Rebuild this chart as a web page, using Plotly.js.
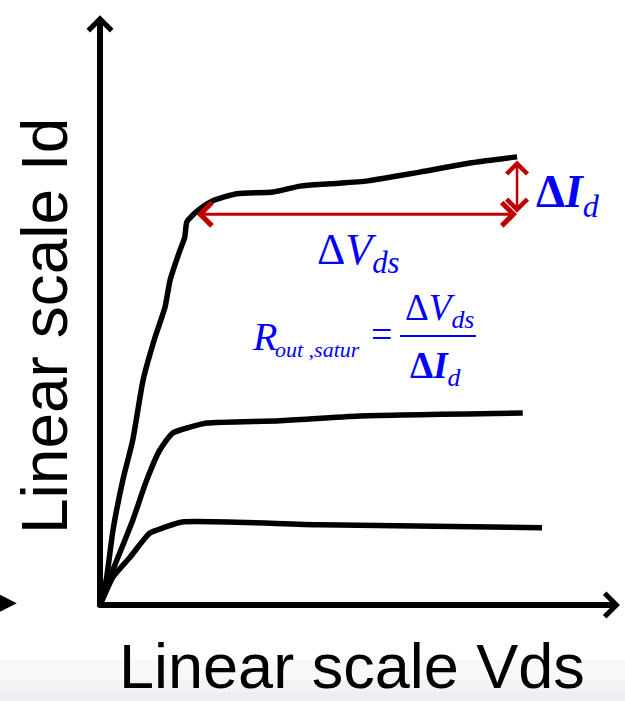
<!DOCTYPE html>
<html><head><meta charset="utf-8">
<script src="https://cdn.plot.ly/plotly-3.0.1.min.js"></script>
<style>html,body{margin:0;padding:0;background:#fff}#chart{width:625px;height:701px}</style>
</head><body><div id="chart"></div>
<script>
// Output characteristics (arbitrary linear units)
const vdsHigh = [0, 0.12, 0.25, 0.44, 0.63, 0.83, 1.06, 1.25, 1.35, 1.54, 1.63, 1.67, 1.79, 1.92, 2.17, 2.63, 3.33, 3.85, 4.42, 5.15, 6.15, 7.15, 8.02];
const idHigh  = [0, 0.43, 1.28, 2.14, 2.82, 3.85, 4.58, 5.09, 5.56, 6.07, 6.29, 6.55, 6.67, 6.77, 6.91, 7.03, 7.06, 7.16, 7.20, 7.25, 7.40, 7.56, 7.66];
const vdsMid  = [0, 0.12, 0.25, 0.63, 0.90, 1.15, 1.40, 1.73, 2.06, 3.46, 5.00, 8.13];
const idMid   = [0, 0.28, 0.60, 1.45, 2.14, 2.65, 2.94, 3.04, 3.11, 3.15, 3.23, 3.28];
const vdsLow  = [0, 0.10, 0.25, 0.58, 0.96, 1.25, 1.58, 4.23, 8.50];
const idLow   = [0, 0.20, 0.48, 0.82, 1.23, 1.33, 1.42, 1.37, 1.32];
// Annotation markers (data units)
const dVdsStart = 1.83, dVdsEnd = 8.02, dVdsLevel = 6.68;
const dIdLow = 6.68, dIdHigh = 7.60;
const axisXMax = 10.0, axisYMax = 10.08;

const W = 625, H = 701;
const px = x => x / W, py = y => 1 - y / H;

function curve(x, y) {
  return {x: x, y: y, type: 'scatter', mode: 'lines', hoverinfo: 'skip',
    line: {color: '#000', width: 5.5, shape: 'spline', smoothing: 0.6}};
}
const data = [curve(vdsHigh, idHigh), curve(vdsMid, idMid), curve(vdsLow, idLow)];

const blue = '#0000ff';
const serif = 'Liberation Serif, Times New Roman, serif';
const sans = 'Liberation Sans, Arial, sans-serif';

function arrow(x, y, ax, ay, o) {
  return Object.assign({x: x, y: y, ax: ax, ay: ay, xref: 'x', yref: 'y', axref: 'x', ayref: 'y',
    text: '', showarrow: true, standoff: 0, startstandoff: 0}, o);
}
function label(text, x, y, size, o) {
  return Object.assign({text: text, x: px(x), y: py(y), xref: 'paper', yref: 'paper',
    showarrow: false, xanchor: 'center', yanchor: 'middle', borderpad: 0,
    font: {family: serif, size: size, color: blue}}, o);
}

const annotations = [
  // axes
  arrow(0, axisYMax, 0, -0.06, {arrowhead: 4, arrowwidth: 6, arrowsize: 0.75, arrowcolor: '#000'}),
  arrow(axisXMax, 0, -0.06, 0, {arrowhead: 4, arrowwidth: 6, arrowsize: 0.75, arrowcolor: '#000'}),
  // partial arrow at left edge
  arrow(-1.6, 0.03, -2.6, 0.03, {arrowhead: 2, arrowwidth: 4, arrowsize: 1, arrowcolor: '#000'}),
  // red double arrows
  arrow(dVdsEnd, dVdsLevel, dVdsStart, dVdsLevel, {arrowside: 'end+start', arrowhead: 4, startarrowhead: 4,
    arrowwidth: 3, arrowsize: 1.5, startarrowsize: 1.5, arrowcolor: '#c00000'}),
  arrow(dVdsEnd, dIdHigh, dVdsEnd, dIdLow, {arrowside: 'end+start', arrowhead: 4, startarrowhead: 4,
    arrowwidth: 2.5, arrowsize: 1.6, startarrowsize: 1.6, arrowcolor: '#c00000'}),
  // texts
  label('Δ<i>V</i><sub><i>ds</i></sub>', 358, 252, 44),
  label('<b>Δ<i>I</i></b><sub><i>d</i></sub>', 568, 195, 46),
  label('<i>R</i>', 264, 336, 40),
  label('<i>out ,satur</i>', 274, 349, 22, {xanchor: 'left'}),
  label('=', 381, 334, 38),
  label('Δ<i>V</i><sub><i>ds</i></sub>', 439, 311, 37),
  label('<b>Δ<i>I</i></b><sub><i>d</i></sub>', 436, 368, 37),
  // axis titles
  label('Linear scale Vds', 352, 666, 63, {font: {family: sans, size: 63, color: '#000'}}),
  label('Linear scale Id', 45, 326, 64, {textangle: -90, font: {family: sans, size: 64, color: '#000'}})
];

const shapes = [
  {type: 'rect', xref: 'paper', yref: 'paper', x0: 0, x1: 1, y0: py(701), y1: py(660), fillcolor: '#f9f9fb', line: {width: 0}, layer: 'below'},
  {type: 'rect', xref: 'paper', yref: 'paper', x0: 0, x1: 1, y0: py(701), y1: py(680), fillcolor: '#f3f3f6', line: {width: 0}, layer: 'below'},
  {type: 'rect', xref: 'paper', yref: 'paper', x0: 0, x1: 1, y0: py(701), y1: py(692), fillcolor: '#eeeef2', line: {width: 0}, layer: 'below'},
  // fraction bar
  {type: 'line', xref: 'paper', yref: 'paper', x0: px(400), x1: px(476), y0: py(336), y1: py(336), line: {color: blue, width: 2}}
];

const layout = {
  width: W, height: H, margin: {l: 0, r: 0, t: 0, b: 0},
  paper_bgcolor: '#fff', plot_bgcolor: 'rgba(0,0,0,0)', showlegend: false,
  xaxis: {range: [-100 / 52, 525 / 52], visible: false, fixedrange: true},
  yaxis: {range: [-96 / 58.5, 605 / 58.5], visible: false, fixedrange: true},
  annotations: annotations, shapes: shapes
};
Plotly.newPlot('chart', data, layout, {staticPlot: true, displayModeBar: false});
</script></body></html>
